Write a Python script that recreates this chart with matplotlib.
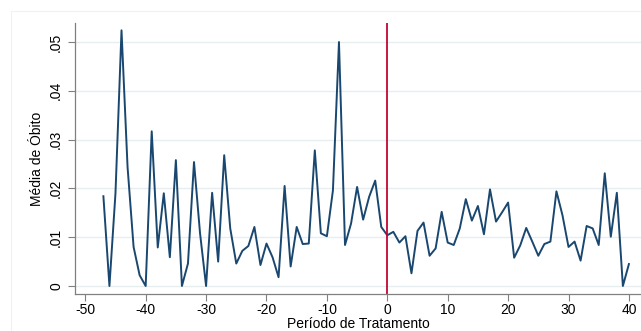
import matplotlib
matplotlib.use("Agg")
import matplotlib.pyplot as plt
from matplotlib.patches import Rectangle

# Período de tratamento (-47 .. 40)
periodo = list(range(-47, 41))
media_obito = [
    0.0184, 0.0000, 0.0190, 0.0524, 0.0244, 0.0080, 0.0022, 0.0000, 0.0317, 0.0079,  # -47..-38
    0.0190, 0.0059, 0.0258, 0.0000, 0.0046, 0.0254, 0.0108, 0.0000, 0.0191, 0.0050,  # -37..-28
    0.0268, 0.0118, 0.0046, 0.0072, 0.0082, 0.0121, 0.0043, 0.0087, 0.0059, 0.0018,  # -27..-18
    0.0205, 0.0040, 0.0121, 0.0086, 0.0087, 0.0278, 0.0108, 0.0102, 0.0196, 0.0500,  # -17..-8
    0.0084, 0.0128, 0.0203, 0.0136, 0.0183, 0.0216, 0.0121, 0.0104, 0.0111, 0.0089,  # -7..2
    0.0102, 0.0026, 0.0113, 0.0130, 0.0062, 0.0077, 0.0152, 0.0089, 0.0084, 0.0118,  # 3..12
    0.0178, 0.0134, 0.0164, 0.0106, 0.0198, 0.0132, 0.0151, 0.0171, 0.0058, 0.0083,  # 13..22
    0.0119, 0.0091, 0.0062, 0.0086, 0.0091, 0.0194, 0.0145, 0.0080, 0.0091, 0.0052,  # 23..32
    0.0123, 0.0118, 0.0084, 0.0231, 0.0101, 0.0191, 0.0000, 0.0045,                  # 33..40
]
xticks = [-50, -40, -30, -20, -10, 0, 10, 20, 30, 40]
yticks = [0, 0.01, 0.02, 0.03, 0.04, 0.05]
ytick_labels = ["0", ".01", ".02", ".03", ".04", ".05"]

plt.rcParams["font.family"] = ["Liberation Sans", "DejaVu Sans"]
plt.rcParams["axes.unicode_minus"] = False

fig = plt.figure(figsize=(6.41, 3.31), dpi=100)
fig.patches.append(Rectangle((11 / 641, 0.0), 1.0, 1 - 11 / 331, transform=fig.transFigure,
                             fill=False, edgecolor="#f0f2f2", lw=0.8))
ax = fig.add_axes([75 / 641, 37 / 331, 566 / 641, 271 / 331])

ax.plot(periodo, media_obito, color="#1a476f", lw=1.4)
ax.axvline(0, color="#c10534", lw=1.3)

ax.set_xlim(-51.7, 42.0)
ax.set_ylim(-0.00164, 0.0539)
ax.set_xticks(xticks)
ax.set_yticks(yticks)
ax.set_yticklabels(ytick_labels, rotation=90, va="center")
ax.tick_params(axis="both", labelsize=10, length=5, color="#808080", width=0.8)
ax.tick_params(axis="x", pad=1.5)
ax.grid(axis="y", color="#e6eef0", lw=1.0)
ax.set_axisbelow(True)

for side in ["top", "right"]:
    ax.spines[side].set_visible(False)
for side in ["left", "bottom"]:
    ax.spines[side].set_color("#808080")
    ax.spines[side].set_linewidth(0.9)

ax.set_xlabel("Período de Tratamento", fontsize=10, labelpad=0)
ax.set_ylabel("Média de Óbito", fontsize=10, labelpad=4)

fig.savefig("out.png", dpi=100)
